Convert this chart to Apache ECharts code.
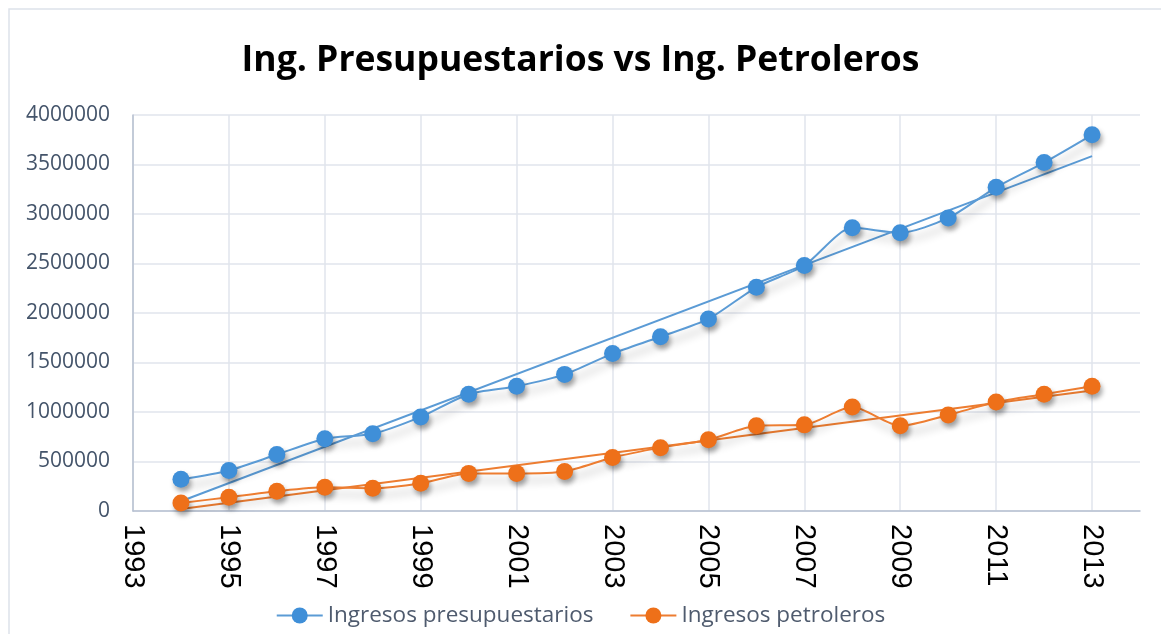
<!DOCTYPE html>
<html lang="es">
<head>
  <meta charset="UTF-8" />
  <title>Ing. Presupuestarios vs Ing. Petroleros</title>
  <script src="https://cdn.jsdelivr.net/npm/echarts@6.0.0/dist/echarts.min.js"></script>
  <style>
    * { margin: 0; padding: 0; box-sizing: border-box; }
    body { background: #fff; }
    #chart { width: 1161px; height: 634px; }
  </style>
</head>
<body>
  <div id="chart"></div>
  <script>
    // años de la serie y valores
    const years = [1994, 1995, 1996, 1997, 1998, 1999, 2000, 2001, 2002, 2003,
                   2004, 2005, 2006, 2007, 2008, 2009, 2010, 2011, 2012, 2013];
    const presupuestarios = [320000, 410000, 570000, 730000, 780000, 950000, 1180000, 1260000, 1380000, 1590000,
                             1760000, 1940000, 2260000, 2480000, 2860000, 2810000, 2960000, 3270000, 3520000, 3800000];
    const petroleros = [80000, 140000, 200000, 240000, 230000, 280000, 380000, 380000, 400000, 540000,
                        640000, 720000, 860000, 870000, 1050000, 860000, 970000, 1100000, 1180000, 1260000];
    const baseYear = 1993; // el eje x arranca aquí

    const BLUE = '#5b9bd5', BLUE_DOT = '#3f8fd8';
    const ORANGE = '#ed7d31', ORANGE_DOT = '#ee7019';

    // línea de tendencia lineal (mínimos cuadrados), como en Excel
    function trend(xs, ys) {
      const n = xs.length;
      const mx = xs.reduce((a, b) => a + b, 0) / n;
      const my = ys.reduce((a, b) => a + b, 0) / n;
      let sxy = 0, sxx = 0;
      xs.forEach((x, i) => { sxy += (x - mx) * (ys[i] - my); sxx += (x - mx) * (x - mx); });
      const m = sxy / sxx, b = my - m * mx;
      return [xs[0], xs[n - 1]].map(x => [x - baseYear, m * x + b]);
    }

    const pts = vals => years.map((y, i) => [y - baseYear, vals[i]]);

    const mainSeries = (name, vals, lineColor, dotColor) => ({
      name, type: 'line', data: pts(vals), smooth: 0.25,
      symbol: 'circle', symbolSize: 17, z: 3,
      lineStyle: { color: lineColor, width: 2, shadowColor: 'rgba(0,0,0,0.32)', shadowBlur: 8, shadowOffsetX: 3, shadowOffsetY: 7 },
      itemStyle: { color: dotColor, shadowColor: 'rgba(0,0,0,0.35)', shadowBlur: 5, shadowOffsetX: 2, shadowOffsetY: 4 }
    });

    const trendSeries = (vals, color) => ({
      type: 'line', data: trend(years, vals), symbol: 'none', silent: true, z: 2,
      lineStyle: { color, width: 2 }
    });

    const chart = echarts.init(document.getElementById('chart'));
    chart.setOption({
      animation: false,
      title: {
        text: 'Ing. Presupuestarios vs Ing. Petroleros',
        left: 'center', top: 38,
        textStyle: { fontFamily: 'Open Sans', fontWeight: 'bold', fontSize: 35.5, color: '#000' }
      },
      graphic: [{
        type: 'rect', silent: true, z: -1,
        shape: { x: 9, y: 9, width: 1170, height: 640 },
        style: { fill: 'none', stroke: '#dde2ea', lineWidth: 1.5 }
      }],
      grid: { left: 133, right: 21, top: 115, bottom: 123, containLabel: false },
      legend: {
        bottom: 2, left: 'center', itemGap: 36, itemWidth: 46, itemHeight: 20,
        data: ['Ingresos presupuestarios', 'Ingresos petroleros'],
        textStyle: { fontFamily: 'Open Sans', fontSize: 22.5, color: '#4f5b6e' }
      },
      xAxis: {
        type: 'value', min: 0, max: 21, interval: 2,
        axisLine: { show: true, lineStyle: { color: '#b7c1d1', width: 1.5 } },
        axisTick: { show: false },
        axisLabel: {
          rotate: -90, margin: 13, showMaxLabel: false,
          fontFamily: 'Liberation Sans', fontSize: 29, color: '#000',
          formatter: v => String(v + baseYear)
        },
        splitLine: { show: true, showMaxLine: false, lineStyle: { color: '#e1e5ec', width: 1.5 } }
      },
      yAxis: {
        type: 'value', min: 0, max: 4000000, interval: 500000,
        axisLine: { show: true, lineStyle: { color: '#b7c1d1', width: 1.5 } },
        axisTick: { show: false },
        axisLabel: {
          margin: 23, fontFamily: 'Open Sans', fontSize: 21, color: '#44546a',
          formatter: v => String(v)
        },
        splitLine: { lineStyle: { color: '#e1e5ec', width: 1.5 } }
      },
      series: [
        mainSeries('Ingresos presupuestarios', presupuestarios, BLUE, BLUE_DOT),
        mainSeries('Ingresos petroleros', petroleros, ORANGE, ORANGE_DOT),
        trendSeries(presupuestarios, BLUE),
        trendSeries(petroleros, ORANGE)
      ]
    });
  </script>
</body>
</html>
